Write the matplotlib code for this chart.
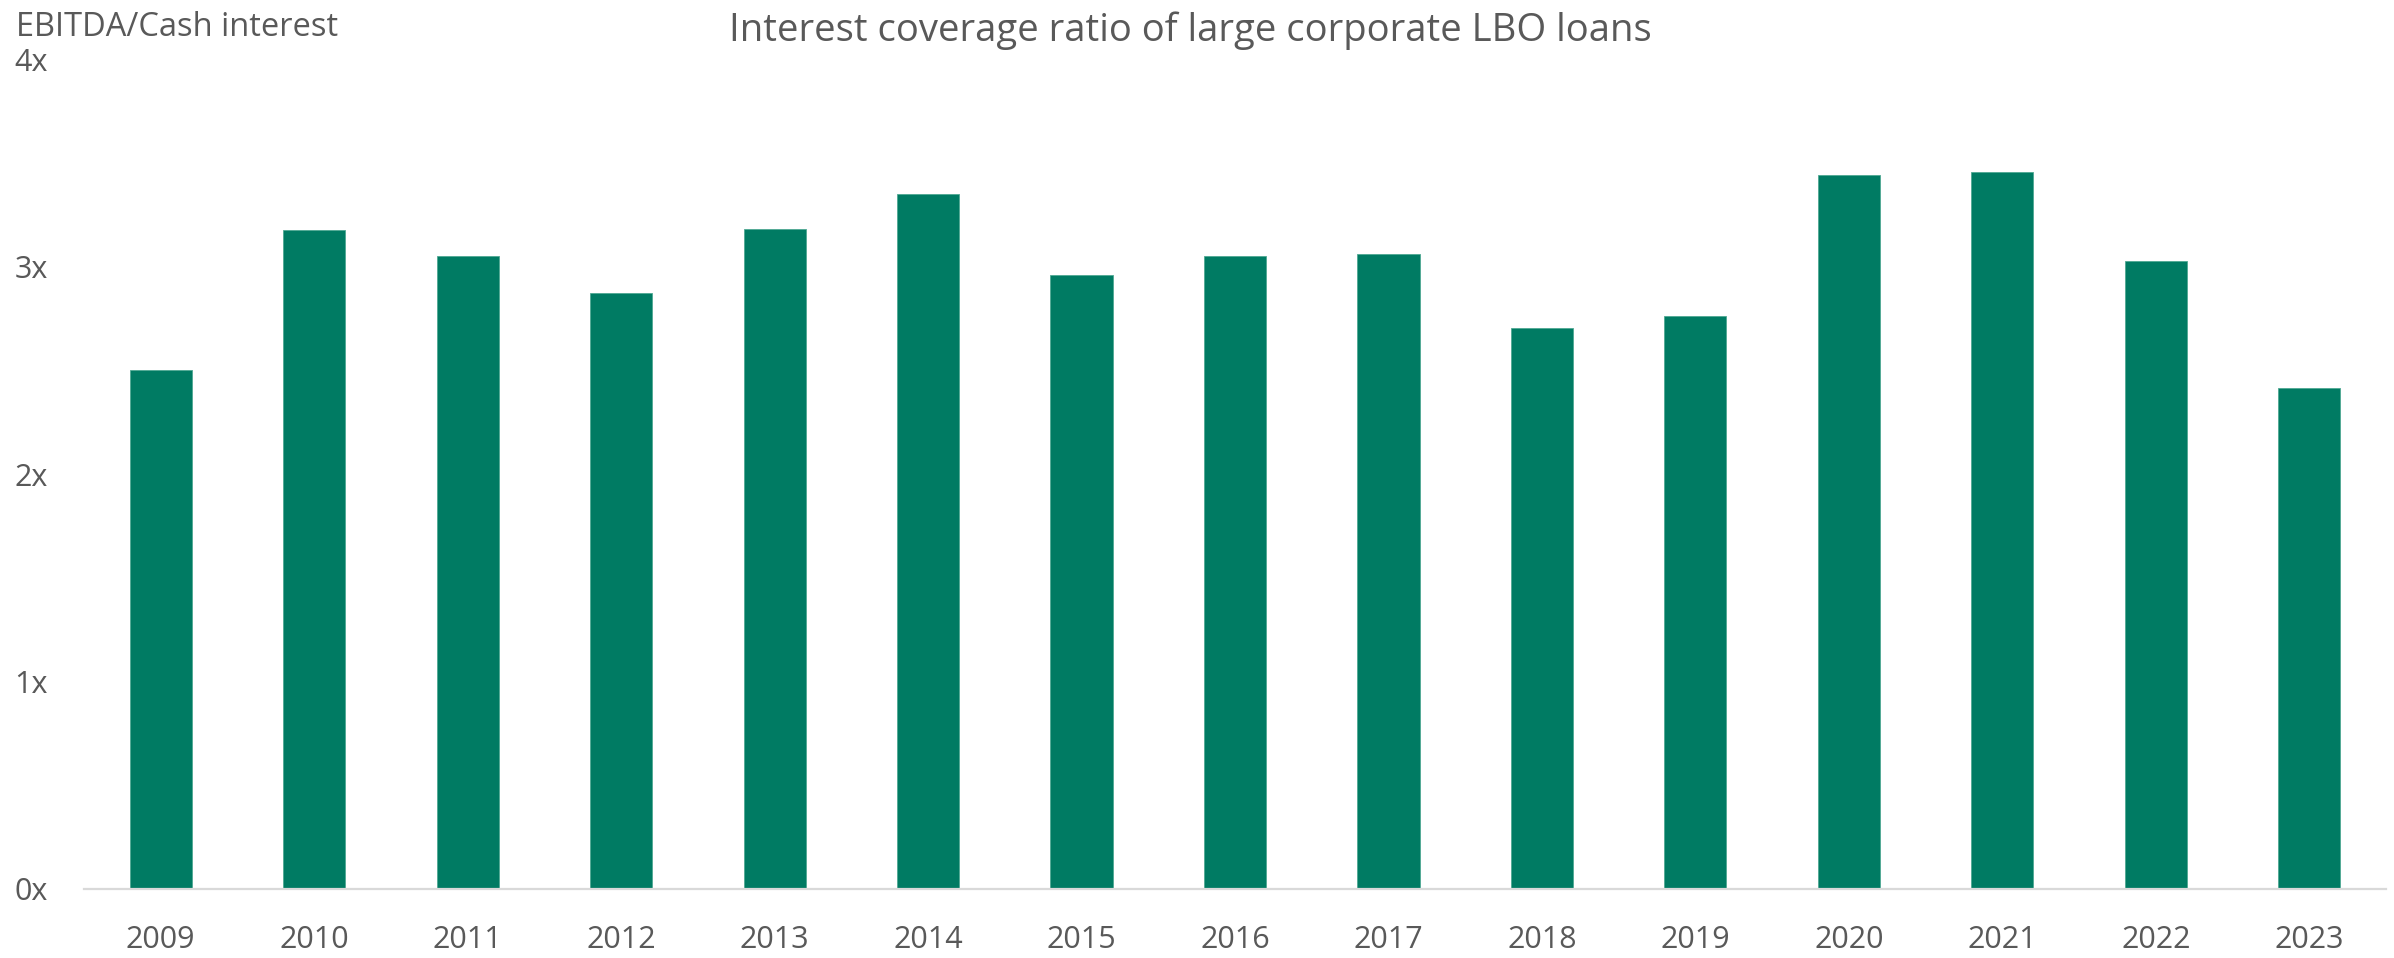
import numpy as np
import matplotlib
matplotlib.use("Agg")
import matplotlib.pyplot as plt

# interest coverage ratio (EBITDA / cash interest)
years = ["2009", "2010", "2011", "2012", "2013", "2014", "2015", "2016",
         "2017", "2018", "2019", "2020", "2021", "2022", "2023"]
coverage = [2.50, 3.175, 3.05, 2.87, 3.18, 3.35, 2.96, 3.05,
            3.06, 2.705, 2.76, 3.44, 3.455, 3.025, 2.415]
yticks = [0, 1, 2, 3, 4]
ytick_labels = ["0x", "1x", "2x", "3x", "4x"]

plt.rcParams["font.family"] = ["Open Sans", "DejaVu Sans"]
grey = "#595959"

W, H, dpi = 2394, 958, 100
fig = plt.figure(figsize=(W / dpi, H / dpi), dpi=dpi)
ax = fig.add_axes([84 / W, (H - 889) / H, (2386 - 84) / W, (889 - 59) / H])

x = np.arange(len(years))
ax.bar(x, coverage, width=0.405, color="#007B63", edgecolor="#4FA893", linewidth=0.6)

ax.set_xlim(-0.5, len(years) - 0.5)
ax.set_ylim(0, 4)
ax.set_xticks(x)
ax.set_xticklabels(years)
ax.set_yticks(yticks)
ax.set_yticklabels(ytick_labels)

for s in ["top", "right", "left"]:
    ax.spines[s].set_visible(False)
ax.spines["bottom"].set_color("#D9D9D9")
ax.spines["bottom"].set_linewidth(1.6)

ax.tick_params(axis="x", length=0, pad=26, labelsize=22, labelcolor=grey)
ax.tick_params(axis="y", length=0, pad=50, labelsize=22, labelcolor=grey)
for lab in ax.get_yticklabels():
    lab.set_horizontalalignment("left")

fig.text(1190 / W, 1 - 31 / H, "Interest coverage ratio of large corporate LBO loans",
         ha="center", va="center", fontsize=27.5, color=grey)
fig.text(16 / W, 1 - 27 / H, "EBITDA/Cash interest",
         ha="left", va="center", fontsize=23.5, color=grey)

fig.savefig("out.png", dpi=dpi)
